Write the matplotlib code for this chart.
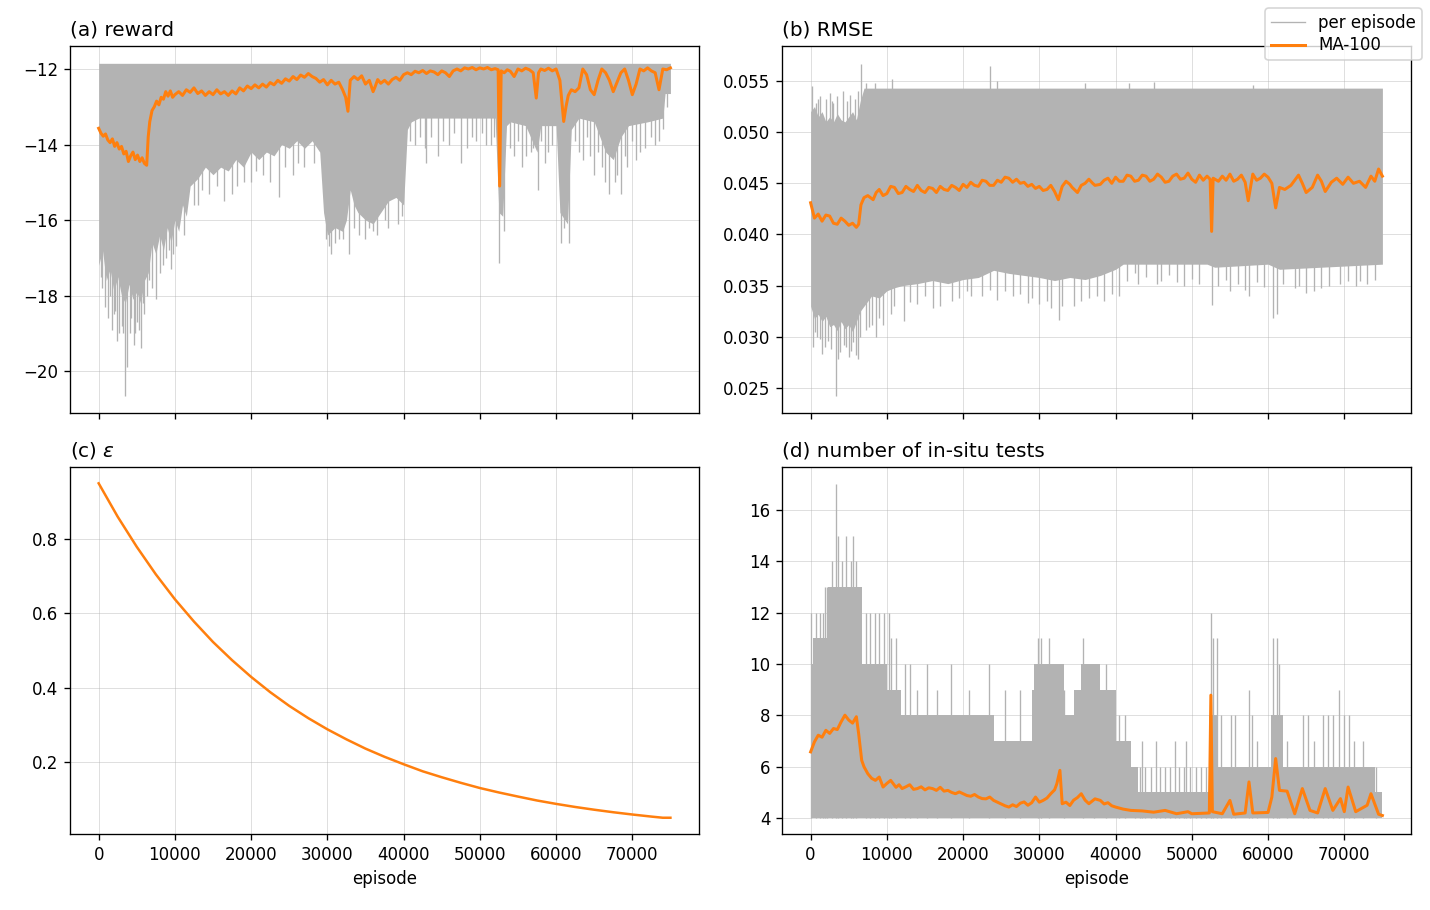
import numpy as np
import matplotlib
matplotlib.use("Agg")
import matplotlib.pyplot as plt

# ---------------- data ----------------
# (a) reward: per-episode band (core), spikes and MA-100
reward_top = -11.85
reward_core = [(0, -17.2), (500, -16.8), (1000, -17.6), (1500, -17.3), (2000, -17.9), (2500, -17.5),
               (3000, -18.0), (3500, -18.2), (4000, -17.7), (4500, -18.1), (5000, -17.9), (5500, -18.2),
               (6000, -17.6), (6500, -17.4), (7000, -16.6), (7500, -16.9), (8000, -16.4), (8500, -16.8),
               (9000, -16.2), (9500, -16.6), (10000, -16.0), (10500, -16.3), (11000, -15.6), (11500, -15.9),
               (12000, -15.1), (13000, -14.9), (14000, -14.6), (15000, -14.8), (16000, -14.6), (17000, -14.7),
               (18000, -14.4), (19000, -14.6), (20000, -14.2), (21000, -14.4), (22000, -14.2), (23000, -14.3),
               (24000, -14.0), (25000, -14.1), (26000, -13.9), (27000, -14.1), (28000, -13.9), (29000, -14.2),
               (29500, -15.8), (30000, -16.4), (31000, -16.2), (32000, -16.3), (32500, -16.0), (33000, -15.2),
               (33500, -15.6), (34000, -15.8), (35000, -16.0), (36000, -16.1), (37000, -15.8), (38000, -15.5),
               (39000, -15.4), (40000, -15.6), (40500, -13.6), (41000, -13.4), (42000, -13.3), (44000, -13.3),
               (46000, -13.3), (48000, -13.3), (50000, -13.3), (52000, -13.3), (52500, -15.8), (53000, -15.9),
               (53500, -13.5), (54000, -13.4), (56000, -13.5), (57500, -14.2), (58000, -13.5), (60000, -13.5),
               (60500, -15.8), (61500, -16.1), (62000, -13.6), (63000, -13.3), (65000, -13.4), (66500, -14.2),
               (67500, -14.4), (68500, -13.8), (69500, -13.5), (72000, -13.4), (74000, -13.3), (74300, -12.65),
               (75000, -12.65)]
reward_spikes = [(300, -17.5), (500, -17.8), (800, -18.3), (1200, -18.6), (1500, -18.0), (1700, -18.9),
                 (2000, -18.5), (2200, -18.4), (2400, -19.2), (2700, -19.0), (3000, -18.8), (3200, -19.0),
                 (3400, -20.65), (3700, -19.9), (4100, -19.0), (4300, -18.6), (4600, -19.3), (4800, -19.0),
                 (5000, -18.7), (5300, -18.9), (5600, -19.4), (5800, -18.2), (6000, -18.5), (6300, -18.0),
                 (6600, -17.6), (7000, -17.8), (7500, -18.1), (8000, -17.4), (8400, -17.2), (8800, -17.0),
                 (9200, -16.8), (9500, -17.3), (9800, -16.9), (10200, -16.7), (11200, -16.4), (12500, -15.6),
                 (13000, -15.6), (13500, -15.2), (14500, -15.3), (15500, -15.1), (16500, -15.5), (17500, -15.3),
                 (18200, -15.1), (19000, -15.0), (20000, -15.0), (20700, -14.7), (21500, -14.8), (22500, -15.0),
                 (23600, -15.4), (24500, -14.6), (25500, -14.8), (26200, -14.5), (27000, -14.6), (28200, -14.5),
                 (29800, -16.5), (30200, -16.7), (30500, -16.9), (31000, -16.6), (31500, -16.5), (32000, -16.5),
                 (32800, -16.9), (33500, -16.2), (34200, -16.4), (35000, -16.5), (35500, -16.2), (36000, -16.3),
                 (36500, -16.4), (37500, -16.0), (38000, -16.2), (39200, -16.1), (39800, -15.9), (40800, -13.9),
                 (41500, -14.0), (42200, -13.8), (42800, -14.1), (43000, -14.5), (43600, -13.8), (44500, -14.3),
                 (45200, -13.9), (46000, -14.0), (46600, -13.7), (47500, -14.5), (48300, -14.1), (49000, -13.8),
                 (49500, -13.9), (50300, -13.7), (50800, -14.0), (51500, -14.0), (51900, -13.8), (52550, -17.15),
                 (53200, -16.3), (54000, -14.1), (54500, -14.3), (55000, -13.9), (55500, -14.6), (56000, -14.3),
                 (56700, -14.2), (57000, -14.1), (57600, -15.2), (58000, -13.9), (58500, -14.5), (59000, -14.2),
                 (59500, -14.0), (60600, -16.6), (61100, -16.2), (61700, -16.6), (62500, -13.9), (63000, -14.2),
                 (63500, -14.4), (64000, -13.8), (64400, -14.3), (65000, -14.8), (65500, -14.2), (66000, -14.6),
                 (66400, -15.0), (67000, -15.3), (67700, -15.0), (68000, -14.8), (68500, -15.3), (69000, -14.3),
                 (69300, -14.6), (70000, -13.9), (70500, -14.4), (71000, -14.2), (71700, -14.1), (72500, -13.8),
                 (73000, -14.0), (73500, -13.9), (74000, -13.6), (74500, -13.0)]
reward_ma = [(0, -13.57), (300, -13.7), (600, -13.78), (900, -13.72), (1200, -13.88), (1500, -13.95),
             (1800, -13.85), (2100, -14.05), (2400, -13.95), (2700, -14.12), (3000, -14.05), (3300, -14.25),
             (3600, -14.18), (3900, -14.45), (4200, -14.3), (4500, -14.2), (4800, -14.4), (5100, -14.28),
             (5400, -14.45), (5700, -14.35), (6000, -14.5), (6300, -14.55), (6500, -13.8), (6700, -13.4),
             (7000, -13.1), (7300, -13.0), (7600, -12.85), (7900, -12.95), (8200, -12.75), (8500, -12.8),
             (8800, -12.6), (9100, -12.72), (9400, -12.58), (9700, -12.75), (10000, -12.68), (10500, -12.6),
             (11000, -12.7), (11500, -12.55), (12000, -12.62), (12500, -12.5), (13000, -12.65), (13500, -12.58),
             (14000, -12.7), (14500, -12.6), (15000, -12.68), (15500, -12.55), (16000, -12.66), (16500, -12.6),
             (17000, -12.7), (17500, -12.58), (18000, -12.66), (18500, -12.5), (19000, -12.58), (19500, -12.45),
             (20000, -12.52), (20500, -12.42), (21000, -12.5), (21500, -12.4), (22000, -12.48), (22500, -12.36),
             (23000, -12.42), (23500, -12.3), (24000, -12.38), (24500, -12.26), (25000, -12.32), (25500, -12.2),
             (26000, -12.28), (26500, -12.16), (27000, -12.22), (27500, -12.12), (28000, -12.2), (28500, -12.25),
             (29000, -12.35), (29500, -12.28), (30000, -12.42), (30500, -12.3), (31000, -12.4), (31500, -12.35),
             (32000, -12.55), (32400, -12.75), (32700, -13.12), (33000, -12.3), (33500, -12.2), (34000, -12.28),
             (34500, -12.18), (35000, -12.4), (35500, -12.3), (36000, -12.6), (36300, -12.45), (36600, -12.28),
             (37000, -12.38), (37500, -12.3), (38000, -12.4), (38500, -12.28), (39000, -12.22), (39500, -12.3),
             (40000, -12.15), (40500, -12.1), (41000, -12.15), (41500, -12.06), (42000, -12.1), (42500, -12.04),
             (43000, -12.12), (43500, -12.05), (44000, -12.08), (44500, -12.15), (45000, -12.05), (45500, -12.1),
             (46000, -12.2), (46500, -12.05), (47000, -12.0), (47500, -12.05), (48000, -11.97), (48500, -12.0),
             (49000, -11.96), (49500, -12.02), (50000, -11.97), (50500, -12.0), (51000, -11.96), (51500, -12.02),
             (52000, -11.99), (52400, -12.02), (52600, -15.1), (52800, -12.05), (53200, -12.1), (53600, -12.02),
             (54000, -12.06), (54500, -12.2), (55000, -12.0), (55500, -12.05), (56000, -11.98), (56500, -12.02),
             (57000, -12.1), (57400, -12.77), (57700, -12.1), (58000, -12.0), (58500, -12.04), (59000, -11.98),
             (59500, -12.05), (60000, -12.0), (60500, -12.3), (61000, -13.39), (61300, -13.0), (61600, -12.7),
             (62000, -12.55), (62500, -12.6), (63000, -12.5), (63500, -12.0), (64000, -12.15), (64500, -12.55),
             (65000, -12.68), (65500, -12.3), (66000, -12.0), (66500, -12.1), (67000, -12.3), (67500, -12.6),
             (68000, -12.35), (68500, -12.1), (69000, -12.0), (69500, -12.3), (70000, -12.68), (70500, -12.4),
             (71000, -12.0), (71500, -12.05), (72000, -11.97), (72500, -12.05), (73000, -12.1), (73500, -12.55),
             (74000, -12.0), (74500, -12.02), (75000, -11.97)]

# (b) RMSE: per-episode band (core low/high), spikes and MA-100
rmse_core = [(0, 0.0330, 0.0520), (500, 0.0318, 0.0525), (1000, 0.0322, 0.0515), (1500, 0.0315, 0.0520),
             (2000, 0.0320, 0.0510), (2500, 0.0310, 0.0515), (3000, 0.0312, 0.0510), (3500, 0.0306, 0.0518),
             (4000, 0.0315, 0.0512), (4500, 0.0308, 0.0510), (5000, 0.0312, 0.0515), (5500, 0.0305, 0.0520),
             (6000, 0.0315, 0.0512), (6500, 0.0325, 0.0530), (7000, 0.0330, 0.0543), (8000, 0.0340, 0.0543),
             (9000, 0.0338, 0.0543), (10000, 0.0345, 0.0543), (11000, 0.0348, 0.0543), (12000, 0.0350, 0.0543),
             (14000, 0.0352, 0.0543), (16000, 0.0355, 0.0543), (18000, 0.0352, 0.0543), (20000, 0.0356, 0.0543),
             (22000, 0.0358, 0.0543), (24000, 0.0365, 0.0543), (26000, 0.0362, 0.0543), (28000, 0.0360, 0.0543),
             (30000, 0.0358, 0.0543), (32000, 0.0355, 0.0543), (34000, 0.0358, 0.0543), (36000, 0.0356, 0.0543),
             (38000, 0.0360, 0.0543), (40000, 0.0366, 0.0543), (41000, 0.0371, 0.0543), (52000, 0.0371, 0.0543),
             (53000, 0.0368, 0.0543), (60000, 0.0371, 0.0543), (61500, 0.0366, 0.0543), (75000, 0.0371, 0.0543)]
rmse_spikes = [(200, 0.0545), (700, 0.0528), (1000, 0.0532), (1200, 0.0535), (2000, 0.0532), (2500, 0.0538),
               (2800, 0.0530), (3000, 0.0528), (3500, 0.0535), (4300, 0.0540), (4800, 0.0530), (5200, 0.0536),
               (5800, 0.0532), (6200, 0.0540), (6600, 0.0567), (7200, 0.0548), (8500, 0.0548), (10700, 0.0552),
               (23500, 0.0565), (24500, 0.0550), (36000, 0.0548), (41800, 0.0548), (45000, 0.0549),
               (58000, 0.0546),
               (300, 0.0290), (600, 0.0305), (900, 0.0300), (1200, 0.0298), (1500, 0.0283), (1900, 0.0290),
               (2300, 0.0296), (2700, 0.0288), (3300, 0.0242), (3600, 0.0278), (3800, 0.0285), (4400, 0.0292),
               (4700, 0.0290), (5000, 0.0280), (5300, 0.0286), (5600, 0.0295), (5900, 0.0282), (6200, 0.0278),
               (6500, 0.0300), (7300, 0.0307), (7700, 0.0310), (8100, 0.0312), (8600, 0.0300), (9000, 0.0318),
               (9500, 0.0312), (10500, 0.0322), (11000, 0.0330), (12300, 0.0315), (13000, 0.0334),
               (14000, 0.0332), (15000, 0.0340), (16000, 0.0328), (17000, 0.0330), (18500, 0.0335),
               (19500, 0.0338), (20500, 0.0345), (21000, 0.0340), (22500, 0.0340), (23500, 0.0346),
               (24500, 0.0336), (25500, 0.0345), (26500, 0.0340), (27500, 0.0342), (28500, 0.0333),
               (29000, 0.0338), (30000, 0.0332), (31000, 0.0335), (31500, 0.0328), (32600, 0.0316),
               (33000, 0.0330), (34500, 0.0330), (35500, 0.0335), (36500, 0.0338), (37500, 0.0340),
               (38500, 0.0335), (39500, 0.0342), (40500, 0.0340), (41500, 0.0355), (42500, 0.0362),
               (43000, 0.0352), (44000, 0.0358), (45500, 0.0352), (46000, 0.0355), (47000, 0.0360),
               (48000, 0.0354), (49000, 0.0350), (50000, 0.0357), (51000, 0.0352), (52600, 0.0331),
               (53500, 0.0350), (54500, 0.0356), (55000, 0.0345), (56000, 0.0352), (57000, 0.0346),
               (57500, 0.0340), (58500, 0.0354), (59500, 0.0349), (60700, 0.0318), (61200, 0.0322),
               (62000, 0.0352), (63500, 0.0348), (64000, 0.0350), (65000, 0.0343), (66000, 0.0345),
               (67000, 0.0348), (68000, 0.0350), (69500, 0.0352), (70500, 0.0355), (71500, 0.0350),
               (72000, 0.0355), (73000, 0.0352), (74000, 0.0356)]
rmse_ma = [(0, 0.0431), (500, 0.0416), (1000, 0.0420), (1500, 0.0413), (2000, 0.0419), (2500, 0.0418),
           (3000, 0.0411), (3500, 0.0410), (4000, 0.0416), (4500, 0.0413), (5000, 0.0409), (5500, 0.0411),
           (6000, 0.0407), (6300, 0.0410), (6600, 0.0429), (7000, 0.0436), (7500, 0.0438), (8200, 0.0434),
           (8600, 0.0441), (9000, 0.0444), (9500, 0.0438), (10000, 0.0440), (10500, 0.0447), (11000, 0.0446),
           (11500, 0.0440), (12000, 0.0441), (12500, 0.0447), (13000, 0.0444), (13500, 0.0442), (14000, 0.0448),
           (14500, 0.0443), (15000, 0.0441), (15500, 0.0446), (16000, 0.0445), (16500, 0.0441), (17000, 0.0447),
           (17500, 0.0444), (18000, 0.0443), (18500, 0.0448), (19000, 0.0446), (19500, 0.0443), (20000, 0.0449),
           (20500, 0.0446), (21000, 0.0451), (21500, 0.0448), (22000, 0.0447), (22500, 0.0453), (23000, 0.0452),
           (23500, 0.0448), (24000, 0.0448), (24500, 0.0453), (25000, 0.0451), (25500, 0.0456), (26000, 0.0455),
           (26500, 0.0451), (27000, 0.0454), (27500, 0.0450), (28000, 0.0451), (28500, 0.0447), (29000, 0.0449),
           (29500, 0.0445), (30000, 0.0447), (30500, 0.0443), (31000, 0.0444), (31500, 0.0448), (32000, 0.0442),
           (32500, 0.0434), (33000, 0.0447), (33500, 0.0452), (34000, 0.0449), (34300, 0.0446), (35000, 0.0441),
           (35500, 0.0448), (36000, 0.0450), (36500, 0.0454), (37000, 0.0450), (37300, 0.0448), (38000, 0.0449),
           (38500, 0.0453), (39000, 0.0455), (39500, 0.0450), (40000, 0.0456), (40500, 0.0452), (41000, 0.0452),
           (41500, 0.0458), (42000, 0.0457), (42500, 0.0452), (43000, 0.0453), (43500, 0.0458), (44000, 0.0457),
           (44500, 0.0452), (45000, 0.0454), (45500, 0.0459), (46000, 0.0456), (46500, 0.0451), (47000, 0.0452),
           (47500, 0.0457), (48000, 0.0459), (48500, 0.0454), (49000, 0.0455), (49500, 0.0460), (50000, 0.0454),
           (50500, 0.0451), (51000, 0.0458), (51500, 0.0453), (52000, 0.0457), (52400, 0.0454), (52600, 0.0403),
           (52800, 0.0455), (53500, 0.0452), (54000, 0.0457), (54500, 0.0453), (55000, 0.0459), (55500, 0.0452),
           (56000, 0.0454), (56500, 0.0458), (57000, 0.0451), (57400, 0.0433), (58000, 0.0459), (58500, 0.0453),
           (59000, 0.0455), (59500, 0.0459), (60000, 0.0456), (60500, 0.0450), (61000, 0.0426), (61500, 0.0446),
           (62200, 0.0444), (63000, 0.0448), (63500, 0.0453), (64000, 0.0458), (64500, 0.0450), (65000, 0.0441),
           (65800, 0.0446), (66500, 0.0458), (67000, 0.0452), (67500, 0.0442), (68300, 0.0451), (69000, 0.0455),
           (69800, 0.0449), (70500, 0.0456), (71200, 0.0450), (72000, 0.0452), (72800, 0.0446), (73500, 0.0457),
           (74000, 0.0452), (74500, 0.0464), (75000, 0.0457)]

# (c) epsilon
eps_x = [0, 2500, 5000, 7500, 10000, 12500, 15000, 17500, 20000, 22500, 25000, 27500, 30000, 32500,
         35000, 37500, 40000, 42500, 45000, 47500, 50000, 52500, 55000, 57500, 60000, 62500, 65000,
         67500, 70000, 72500, 74000, 75000]
eps_y = [0.950, 0.860, 0.779, 0.705, 0.638, 0.578, 0.523, 0.474, 0.429, 0.388, 0.351, 0.318, 0.288, 0.261,
         0.236, 0.214, 0.194, 0.175, 0.159, 0.144, 0.130, 0.118, 0.107, 0.0964, 0.0873, 0.079, 0.0716,
         0.0648, 0.0587, 0.0531, 0.050, 0.050]

# (d) number of in-situ tests
tests_floor = 4
tests_core = [(0, 10), (300, 11), (2300, 13), (6800, 10), (10000, 9), (11800, 8), (24000, 7), (29000, 9),
              (29300, 10), (33300, 8), (34500, 9), (35500, 10), (38000, 9), (40000, 7), (42000, 6), (43000, 5),
              (52300, 8), (53500, 6), (60400, 8), (62000, 6), (74000, 5), (75000, 5)]
tests_spikes = [(100, 12), (700, 12), (1200, 12), (1600, 12), (1900, 13), (2200, 13), (2800, 14), (3300, 17),
                (3600, 15), (4100, 14), (4700, 15), (5300, 14), (5600, 15), (6000, 14), (7200, 12), (7800, 12),
                (8400, 12), (9000, 12), (9600, 12), (10300, 12), (10600, 11), (11200, 11), (12400, 10),
                (13100, 10), (14000, 9), (15200, 10), (16600, 9), (18400, 10), (20800, 9), (23400, 10),
                (25500, 9), (27500, 9), (29800, 11), (30200, 11), (31300, 11), (33200, 9), (35700, 11),
                (37200, 10), (38700, 10), (40400, 8), (41300, 8), (42500, 6), (43200, 6), (43500, 7),
                (43800, 6), (44600, 6), (45300, 7), (45800, 6), (46500, 6), (47200, 6), (47800, 7), (48300, 6),
                (49000, 6), (49200, 7), (49800, 6), (50500, 6), (51200, 6), (51900, 6), (52500, 12),
                (52800, 11), (53300, 11), (53800, 8), (55200, 8), (55700, 8), (57500, 9), (57900, 8),
                (58500, 7), (60700, 11), (61200, 11), (61500, 10), (62500, 7), (64600, 8), (65200, 8),
                (66000, 7), (67200, 8), (67800, 8), (68500, 8), (69300, 9), (69900, 8), (70600, 8), (71300, 7),
                (72500, 7), (74100, 6)]
tests_ma = [(0, 6.58), (500, 6.97), (1000, 7.23), (1500, 7.15), (2000, 7.42), (2500, 7.3), (3000, 7.49),
            (3500, 7.45), (4000, 7.75), (4500, 8.01), (5000, 7.82), (5500, 7.7), (6000, 7.95), (6300, 7.29),
            (6700, 6.25), (7000, 6.0), (7500, 5.73), (8000, 5.55), (8500, 5.47), (9000, 5.6), (9500, 5.21),
            (10000, 5.35), (10500, 5.47), (11200, 5.2), (11600, 5.3), (12000, 5.15), (12500, 5.22), (13000, 5.3),
            (13500, 5.12), (14000, 5.15), (14500, 5.22), (15000, 5.1), (15500, 5.18), (16000, 5.15),
            (16500, 5.08), (17000, 5.2), (17500, 5.05), (18000, 5.08), (18500, 5.0), (19000, 4.95),
            (19500, 5.02), (20000, 4.95), (20500, 4.88), (21000, 4.85), (21500, 4.92), (22000, 4.82),
            (22500, 4.76), (23000, 4.75), (23500, 4.82), (24000, 4.69), (24500, 4.62), (25000, 4.55),
            (25500, 4.48), (26000, 4.43), (26500, 4.52), (27000, 4.45), (27500, 4.58), (28000, 4.63),
            (28500, 4.5), (29000, 4.6), (29500, 4.82), (30000, 4.62), (30500, 4.69), (31000, 4.78),
            (31500, 4.95), (32000, 5.1), (32300, 5.34), (32700, 5.86), (33000, 4.56), (33500, 4.62),
            (34000, 4.49), (34500, 4.7), (35000, 4.8), (35500, 4.95), (36000, 4.7), (36500, 4.56),
            (37000, 4.68), (37300, 4.75), (38000, 4.69), (38500, 4.55), (39000, 4.6), (39500, 4.48),
            (40000, 4.43), (41000, 4.35), (42000, 4.30), (43500, 4.28), (45000, 4.23), (46500, 4.3),
            (48000, 4.17), (49500, 4.25), (50000, 4.17), (52300, 4.2), (52500, 8.79), (52700, 4.25),
            (54000, 4.17), (55000, 4.69), (55500, 4.15), (57000, 4.2), (57500, 5.41), (58000, 4.2),
            (60000, 4.22), (60500, 4.82), (61000, 6.32), (61500, 5.08), (62500, 5.05), (63500, 4.17),
            (64500, 5.15), (65500, 4.30), (66500, 4.2), (67500, 5.15), (68500, 4.3), (69500, 4.76),
            (70000, 4.25), (70500, 5.21), (71500, 4.25), (73000, 4.5), (73500, 4.95), (74500, 4.15),
            (75000, 4.10)]

# ---------------- styling ----------------
GREY = "#b3b3b3"
ORANGE = "#ff7f0e"

fig, axes = plt.subplots(2, 2, figsize=(1430 / 120, 910 / 120), dpi=120, sharex=True)
fig.subplots_adjust(left=0.049, right=0.9867, top=0.9495, bottom=0.0835, wspace=0.132, hspace=0.147)
ax_a, ax_b, ax_c, ax_d = axes[0, 0], axes[0, 1], axes[1, 0], axes[1, 1]


def draw_band(ax, xs, lo, hi, spikes_x, spikes_base, spikes_tip, step=None):
    ax.fill_between(xs, lo, hi, color=GREY, lw=0, zorder=2, step=step)
    ax.vlines(spikes_x, np.minimum(spikes_base, spikes_tip), np.maximum(spikes_base, spikes_tip),
              color=GREY, lw=0.8, zorder=2)


# (a)
cx, clo = np.array(reward_core).T
sx, sy = np.array(reward_spikes).T
draw_band(ax_a, cx, clo, np.full_like(clo, reward_top), sx, np.full_like(sy, -12.5), sy)
mx, my = np.array(reward_ma).T
ax_a.plot([], [], color=GREY, lw=0.8, label="per episode")
ax_a.plot(mx, my, color=ORANGE, lw=1.8, zorder=3, label="MA-100")
ax_a.set_ylim(-21.11, -11.39)
ax_a.set_yticks([-20, -18, -16, -14, -12])
ax_a.set_title("(a) reward", loc="left")

# (b)
cx, clo, chi = np.array(rmse_core).T
sx, sy = np.array(rmse_spikes).T
draw_band(ax_b, cx, clo, chi, sx, np.full_like(sy, 0.045), sy)
mx, my = np.array(rmse_ma).T
ax_b.plot(mx, my, color=ORANGE, lw=1.8, zorder=3)
ax_b.set_ylim(0.02256, 0.05842)
ax_b.set_yticks([0.025, 0.030, 0.035, 0.040, 0.045, 0.050, 0.055])
ax_b.set_title("(b) RMSE", loc="left")

# (c)
ax_c.plot(eps_x, eps_y, color=ORANGE, lw=1.5, zorder=3)
ax_c.set_ylim(0.0062, 0.994)
ax_c.set_yticks([0.2, 0.4, 0.6, 0.8])
ax_c.set_title(r"(c) $\varepsilon$", loc="left")

# (d)
cx, chi = np.array(tests_core).T
sx, sy = np.array(tests_spikes).T
draw_band(ax_d, cx, np.full_like(chi, tests_floor), chi, sx, np.full_like(sy, tests_floor), sy, step="post")
mx, my = np.array(tests_ma).T
ax_d.plot(mx, my, color=ORANGE, lw=1.8, zorder=3)
ax_d.set_ylim(3.38, 17.68)
ax_d.set_yticks([4, 6, 8, 10, 12, 14, 16])
ax_d.set_title("(d) number of in-situ tests", loc="left")

for ax in axes.flat:
    ax.set_xlim(-3750, 78750)
    ax.set_xticks(range(0, 70001, 10000))
    ax.grid(True, color="#b0b0b0", alpha=0.4, lw=0.6)
for ax in (ax_c, ax_d):
    ax.set_xlabel("episode")

fig.legend(loc="upper right", labelspacing=0.25, borderpad=0.35)
fig.savefig("out.png", dpi=120)
